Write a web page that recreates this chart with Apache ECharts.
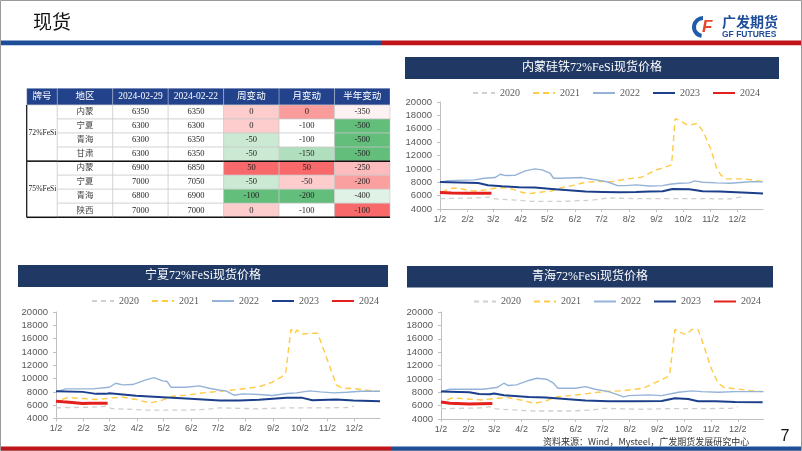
<!DOCTYPE html>
<html>
<head>
<meta charset="utf-8">
<script src="https://cdn.jsdelivr.net/npm/echarts@6/dist/echarts.min.js"></script>
<style>
html, body { margin: 0; padding: 0; background: #fff; }
#main { width: 802px; height: 451px; }
</style>
</head>
<body>
<div id="main"></div>
<script>
// 表格数据
const tableHeader = ['牌号', '地区', '2024-02-29', '2024-02-22', '周变动', '月变动', '半年变动'];
const grades = ['72%FeSi', '75%FeSi'];
const regions = ['内蒙', '宁夏', '青海', '甘肃', '内蒙', '宁夏', '青海', '陕西'];
const price0229 = [6350, 6300, 6300, 6300, 6900, 7000, 6800, 7000];
const price0222 = [6350, 6300, 6350, 6350, 6850, 7050, 6900, 7000];
const weekChg = [0, 0, -50, -50, 50, -50, -100, 0];
const monthChg = [0, -100, -100, -150, 50, -50, -200, -100];
const halfYearChg = [-350, -500, -500, -500, -250, -200, -400, -100];

// 走势图数据 (月/日, 元/吨)
const years = ['2020', '2021', '2022', '2023', '2024'];
const yTicks = { min: 4000, max: 20000, step: 2000 };

// 内蒙
const nm2020 = [['1/2',5550],['2/10',5650],['2/28',5800],['3/4',5500],['3/20',5400],['4/15',5150],['5/20',5150],['6/20',5300],['7/10',5650],['8/10',5550],['9/20',5550],['10/24',5550],['11/24',5500],['12/9',5900]];
const nm2021 = [['1/4',6500],['1/13',7100],['1/23',7100],['2/1',6850],['2/10',6700],['2/21',6850],['3/4',7100],['3/12',7200],['3/23',7000],['4/3',6500],['4/12',6300],['4/22',6500],['5/7',6700],['5/18',7200],['5/30',7500],['6/14',8000],['6/29',8100],['7/14',8100],['7/29',8450],['8/16',8750],['9/1',9800],['9/15',10400],['9/19',10600],['9/23',17500],['9/28',17200],['10/8',16500],['10/18',16800],['10/25',15500],['11/2',13000],['11/9',10000],['11/14',9000],['11/20',8500],['12/10',8500],['12/20',8300],['12/31',8100]];
const nm2022 = [['1/2',8000],['1/11',8250],['2/10',8350],['2/21',8600],['3/4',8700],['3/10',9200],['3/16',9000],['3/27',9050],['4/7',9700],['4/18',10000],['4/26',9850],['5/5',9350],['5/9',8600],['5/18',8600],['6/10',8700],['6/21',8450],['7/3',8200],['7/10',8000],['7/20',7500],['7/29',7500],['8/10',7600],['8/25',7450],['9/9',7500],['9/17',7700],['9/28',7850],['10/9',7900],['10/15',8200],['10/24',8000],['11/9',7900],['11/24',7850],['12/9',8000],['12/20',8100],['12/31',8050]];
const nm2023 = [['1/2',8050],['2/14',7900],['2/25',7550],['3/12',7400],['3/31',7250],['4/18',7200],['5/7',7000],['5/26',6800],['6/14',6600],['7/3',6550],['7/22',6500],['8/10',6550],['8/25',6600],['9/9',6650],['9/20',7000],['10/9',6950],['10/24',6650],['11/12',6600],['12/1',6500],['12/20',6400],['12/31',6300]];
const nm2024 = [['1/2',6450],['1/15',6400],['2/1',6350],['2/29',6350]];

// 宁夏
const nx2020 = [['1/2',5600],['2/12',5700],['2/28',5850],['3/4',5500],['4/15',5250],['5/27',5250],['6/20',5400],['7/4',5600],['8/15',5450],['9/17',5600],['10/25',5600],['11/25',5650],['12/2',5850]];
const nx2021 = [['1/9',6850],['1/15',7150],['2/1',7000],['2/16',6850],['3/6',7100],['3/17',7200],['4/1',6850],['4/16',6350],['4/27',6600],['5/12',7350],['5/27',7500],['6/15',7850],['7/4',8100],['7/23',8350],['8/17',8750],['9/1',9450],['9/12',10300],['9/16',10800],['9/22',17400],['9/26',16800],['9/29',17300],['10/5',16700],['10/16',16800],['10/22',16800],['10/31',13500],['11/12',9050],['11/19',8550],['12/1',8500],['12/16',8250],['12/30',8100]];
const nx2022 = [['1/2',8000],['1/13',8450],['2/12',8450],['3/2',8700],['3/9',9300],['3/17',9050],['3/28',9100],['4/12',9800],['4/21',10150],['5/1',9650],['5/6',9550],['5/10',8700],['5/27',8700],['6/11',8900],['6/22',8550],['7/4',8250],['7/11',8150],['7/20',7500],['7/30',7700],['8/17',7600],['9/1',7450],['9/17',7750],['9/28',7850],['10/13',8150],['10/25',8000],['11/9',7850],['11/24',7950],['12/9',8100],['12/31',8100]];
const nx2023 = [['1/2',8100],['2/1',8000],['2/16',7700],['2/27',7700],['3/2',7800],['4/1',7400],['5/1',7200],['5/27',7000],['7/4',6700],['7/26',6700],['8/17',6800],['9/17',7100],['10/5',7100],['10/16',6750],['11/12',6850],['12/1',6700],['12/31',6600]];
const nx2024 = [['1/2',6600],['1/10',6500],['1/20',6400],['2/1',6250],['2/8',6300],['2/29',6300]];

// 青海
const qh2020 = [['1/2',5550],['2/15',5650],['2/28',5850],['3/4',5500],['4/15',5200],['5/27',5200],['6/20',5350],['7/4',5600],['8/15',5450],['9/17',5550],['10/25',5550],['11/25',5600],['12/2',5850]];
const qh2021 = [['1/9',6850],['1/15',7150],['2/1',7000],['2/16',6850],['3/6',7100],['3/17',7200],['4/1',6850],['4/16',6350],['4/27',6600],['5/12',7300],['5/27',7500],['6/15',7800],['7/4',8100],['7/23',8200],['8/17',8600],['9/1',9500],['9/12',10200],['9/16',10600],['9/22',17400],['9/27',17000],['10/5',16600],['10/11',17400],['10/18',17400],['10/22',16000],['11/2',11550],['11/10',9300],['11/17',8700],['12/1',8500],['12/16',8250],['12/30',8100]];
const qh2022 = [['1/2',8100],['1/12',8450],['2/18',8450],['3/5',8700],['3/13',9350],['3/18',9000],['3/27',9100],['4/11',9800],['4/19',10100],['4/30',9950],['5/8',9350],['5/13',8600],['6/2',8600],['6/13',8850],['6/24',8450],['7/9',8100],['7/20',7600],['7/26',7300],['8/1',7500],['8/23',7600],['9/7',7500],['9/26',8000],['10/11',8200],['10/22',8100],['11/10',8000],['11/29',8100],['12/31',8100]];
const qh2023 = [['1/2',8100],['2/3',8000],['2/14',7750],['2/26',7700],['3/2',7800],['3/13',7550],['4/10',7300],['4/29',7200],['5/25',6950],['6/13',6750],['7/9',6650],['8/8',6650],['9/7',6700],['9/22',7100],['10/7',7000],['10/18',6650],['11/7',6650],['11/29',6550],['12/30',6500]];
const qh2024 = [['1/2',6550],['1/12',6350],['2/3',6250],['2/29',6300]];

const lineStyles = {
  '2020': { color: '#CFCFCF', width: 1.3, type: [5, 4] },
  '2021': { color: '#FFCB45', width: 1.4, type: [6, 4] },
  '2022': { color: '#95B3D7', width: 1.4, type: 'solid' },
  '2023': { color: '#1C3F8C', width: 2, type: 'solid' },
  '2024': { color: '#E3201C', width: 3, type: 'solid' }
};

const charts = [
  { title: '内蒙硅铁72%FeSi现货价格', bar: [405, 57, 374, 22], grid: { left: 440, top: 102, width: 323, height: 107 }, legend: { left: 472, top: 88 }, data: [nm2020, nm2021, nm2022, nm2023, nm2024] },
  { title: '宁夏72%FeSi现货价格', bar: [18, 265, 370, 22], grid: { left: 56, top: 312, width: 324, height: 106.5 }, legend: { left: 91, top: 296 }, data: [nx2020, nx2021, nx2022, nx2023, nx2024] },
  { title: '青海72%FeSi现货价格', bar: [407, 266, 366, 21.5], grid: { left: 441, top: 312, width: 322.5, height: 107 }, legend: { left: 473, top: 296.5 }, data: [qh2020, qh2021, qh2022, qh2023, qh2024] }
];

// 横轴日期 1/2 ~ 12/31 (含 2/29)
const days = [];
for (let m = 1; m <= 12; m++) {
  const n = new Date(2024, m, 0).getDate();
  for (let d = (m === 1 ? 2 : 1); d <= n; d++) days.push(m + '/' + d);
}
const isMonthTick = (i, v) => v.split('/')[1] === '2';

// Excel 三色阶: 绿-白-红, 中点为中位数
function scaleColor(v, arr) {
  const s = arr.slice().sort((a, b) => a - b);
  const min = s[0], max = s[s.length - 1];
  const p = (s.length - 1) * 0.5, lo = Math.floor(p), hi = Math.ceil(p);
  const mid = s[lo] + (s[hi] - s[lo]) * (p - lo);
  let t, c;
  if (v >= mid) { t = max === mid ? 0 : (v - mid) / (max - mid); c = [248, 105, 107]; }
  else { t = (mid - v) / (mid - min); c = [99, 190, 123]; }
  const mix = c.map(k => Math.round(255 + (k - 255) * t));
  return 'rgb(' + mix.join(',') + ')';
}

const myChart = echarts.init(document.getElementById('main'), null, { renderer: 'canvas' });

const grids = [], xAxes = [], yAxes = [], series = [], legends = [], graphics = [];

charts.forEach((c, ci) => {
  grids.push(Object.assign({ containLabel: false }, c.grid));
  xAxes.push({
    gridIndex: ci, type: 'category', data: days, boundaryGap: false,
    axisLine: { lineStyle: { color: '#BFBFBF', width: 1 } },
    axisTick: { interval: isMonthTick, length: 3, lineStyle: { color: '#BFBFBF' } },
    axisLabel: { interval: isMonthTick, fontSize: 9, color: '#595959', margin: 6, fontFamily: 'Liberation Sans' },
    splitLine: { show: false }
  });
  yAxes.push({
    gridIndex: ci, type: 'value', min: yTicks.min, max: yTicks.max, interval: yTicks.step,
    axisLine: { show: true, lineStyle: { color: '#BFBFBF', width: 1 } },
    axisTick: { show: true, length: 3, lineStyle: { color: '#BFBFBF' } },
    axisLabel: { fontSize: 9.5, color: '#595959', margin: 8, fontFamily: 'Liberation Sans', formatter: v => String(v) },
    splitLine: { show: false }
  });
  years.forEach((y, yi) => {
    const st = lineStyles[y];
    series.push({
      type: 'line', name: y, xAxisIndex: ci, yAxisIndex: ci,
      data: c.data[yi], symbol: 'none', silent: true, z: 2 + yi,
      lineStyle: { color: st.color, width: st.width, type: st.type },
      itemStyle: { color: st.color }
    });
  });
  legends.push({
    data: years, left: c.legend.left, top: c.legend.top, padding: 0,
    itemWidth: 22, itemHeight: 10, itemGap: 12,
    selectedMode: false, itemStyle: { opacity: 0 },
    textStyle: { fontFamily: 'Liberation Serif', fontSize: 10, color: '#595959' }
  });
  graphics.push({ type: 'rect', shape: { x: c.bar[0], y: c.bar[1], width: c.bar[2], height: c.bar[3] }, style: { fill: '#1F3864' } });
  graphics.push({ type: 'text', x: c.bar[0] + c.bar[2] / 2, y: c.bar[1] + c.bar[3] / 2,
    style: { text: c.title, fill: '#fff', font: '12px "Liberation Serif", "Noto Sans CJK SC"', align: 'center', verticalAlign: 'middle' } });
});

// 表格: 4 个网格 (表头首列, 表头其余, 表体首列, 表体其余)
const tLeft = 26.7, tCol1 = 30.6, tRight = 390, tTop = 88.3, tHead = 16.7, tBottom = 217.3;
const tableGrids = [
  { left: tLeft, top: tTop, width: tCol1, height: tHead, xs: [tableHeader[0]], ys: ['h'] },
  { left: tLeft + tCol1, top: tTop, width: tRight - tLeft - tCol1, height: tHead, xs: tableHeader.slice(1), ys: ['h'] },
  { left: tLeft, top: tTop + tHead, width: tCol1, height: tBottom - tTop - tHead, xs: ['g'], ys: grades },
  { left: tLeft + tCol1, top: tTop + tHead, width: tRight - tLeft - tCol1, height: tBottom - tTop - tHead, xs: tableHeader.slice(1), ys: regions.map((r, i) => i) }
];
tableGrids.forEach((g, k) => {
  const gi = charts.length + k;
  grids.push({ left: g.left, top: g.top, width: g.width, height: g.height });
  xAxes.push({ gridIndex: gi, type: 'category', data: g.xs, show: false });
  yAxes.push({ gridIndex: gi, type: 'category', data: g.ys, show: false, inverse: true });
});

const cellFont = '8.5px "Liberation Serif", "Noto Sans CJK SC"';
const gradeFont = '7.6px "Liberation Serif", "Noto Sans CJK SC"';
const headFont = '9.5px "Liberation Serif", "Noto Sans CJK SC"';
function cellBox(api) {
  const c = api.coord([api.value(0), api.value(1)]);
  const s = api.size([1, 1]);
  return { x: c[0] - s[0] / 2, y: c[1] - s[1] / 2, w: s[0], h: s[1], cx: c[0], cy: c[1] };
}
function headerItem(texts) {
  return (params, api) => {
    const b = cellBox(api);
    return { type: 'group', children: [
      { type: 'rect', shape: { x: b.x, y: b.y, width: b.w, height: b.h }, style: { fill: '#22428C', stroke: 'rgba(255,255,255,0.45)', lineWidth: 0.6 } },
      { type: 'text', style: { text: texts[params.dataIndex], x: b.cx, y: b.cy, align: 'center', verticalAlign: 'middle', font: headFont, fill: '#fff' } }
    ] };
  };
}
series.push({ type: 'custom', xAxisIndex: 3, yAxisIndex: 3, silent: true, data: [[0, 0]], renderItem: headerItem([tableHeader[0]]) });
series.push({ type: 'custom', xAxisIndex: 4, yAxisIndex: 4, silent: true, data: tableHeader.slice(1).map((t, i) => [i, 0]), renderItem: headerItem(tableHeader.slice(1)) });

series.push({
  type: 'custom', xAxisIndex: 5, yAxisIndex: 5, silent: true,
  data: grades.map((g, i) => [0, i]),
  renderItem: (params, api) => {
    const b = cellBox(api);
    return { type: 'group', children: [
      { type: 'rect', shape: { x: b.x, y: b.y, width: b.w, height: b.h }, style: { fill: '#fff', stroke: '#BFBFBF', lineWidth: 0.6 } },
      { type: 'text', style: { text: grades[params.dataIndex], x: b.cx + 0.5, y: b.cy, align: 'center', verticalAlign: 'middle', font: gradeFont, fill: '#222' } },
      { type: 'line', z2: 10, shape: { x1: b.x, y1: b.y + b.h, x2: b.x + b.w, y2: b.y + b.h }, style: { stroke: '#111', lineWidth: 1.5 } },
      { type: 'line', z2: 10, shape: { x1: b.x, y1: b.y, x2: b.x, y2: b.y + b.h }, style: { stroke: '#111', lineWidth: 1.2 } }
    ] };
  }
});

const bodyCols = [regions, price0229, price0222, weekChg, monthChg, halfYearChg];
const bodyData = [];
regions.forEach((r, ri) => bodyCols.forEach((col, ci) => bodyData.push([ci, ri])));
series.push({
  type: 'custom', xAxisIndex: 6, yAxisIndex: 6, silent: true, data: bodyData,
  renderItem: (params, api) => {
    const b = cellBox(api);
    const ci = api.value(0), ri = api.value(1);
    const v = bodyCols[ci][ri];
    const fill = ci >= 3 ? scaleColor(v, bodyCols[ci]) : '#fff';
    const kids = [
      { type: 'rect', shape: { x: b.x, y: b.y, width: b.w, height: b.h }, style: { fill: fill, stroke: '#C8C8C8', lineWidth: 0.6 } },
      { type: 'text', style: { text: String(v), x: b.cx, y: b.cy, align: 'center', verticalAlign: 'middle', font: cellFont, fill: ci === 0 ? '#444' : '#222' } }
    ];
    if (ri === 3 || ri === 7) {
      kids.push({ type: 'line', z2: 10, shape: { x1: b.x, y1: b.y + b.h, x2: b.x + b.w, y2: b.y + b.h }, style: { stroke: '#111', lineWidth: 1.5 } });
    }
    return { type: 'group', children: kids };
  }
});

// 页面装饰
graphics.push(
  { type: 'rect', z: -10, shape: { x: 0.5, y: 0.5, width: 801, height: 450 }, style: { fill: '#fff', stroke: '#9A9A9A', lineWidth: 1 } },
  { type: 'text', x: 33, y: 22, style: { text: '现货', font: '19px "Noto Sans CJK SC"', fill: '#111', verticalAlign: 'middle' } },
  { type: 'rect', shape: { x: 1, y: 40.5, width: 381, height: 4.8 }, style: { fill: '#1F4E99' } },
  { type: 'rect', shape: { x: 382, y: 40.5, width: 419, height: 4.8 }, style: { fill: '#C0141B' } },
  { type: 'rect', shape: { x: 1, y: 446.5, width: 391, height: 4 }, style: { fill: '#C0141B' } },
  { type: 'rect', shape: { x: 392, y: 446.5, width: 409, height: 4 }, style: { fill: '#1F4E99' } },
  { type: 'arc', shape: { cx: 703, cy: 27, r: 9, startAngle: Math.PI * 0.55, endAngle: Math.PI * 1.5 }, style: { stroke: '#1F5BA8', lineWidth: 4, fill: null } },
  { type: 'text', x: 702, y: 27, style: { text: 'F', font: 'italic bold 17px "Liberation Sans"', fill: '#E8452C', verticalAlign: 'middle' } },
  { type: 'text', x: 722, y: 22, style: { text: '广发期货', font: 'bold 14px "Noto Sans CJK SC"', fill: '#1F4E99', verticalAlign: 'middle' } },
  { type: 'text', x: 722, y: 35, style: { text: 'GF FUTURES', font: 'bold 8.5px "Liberation Sans"', fill: '#1F4E99', verticalAlign: 'middle' } },
  { type: 'text', x: 543, y: 441.5, style: { text: '资料来源：Wind，Mysteel，广发期货发展研究中心', font: '9px "Noto Sans CJK SC"', fill: '#333', verticalAlign: 'middle' } },
  { type: 'text', x: 785, y: 437, style: { text: '7', font: '16px "Liberation Sans"', fill: '#111', align: 'center', verticalAlign: 'middle' } }
);

myChart.setOption({
  animation: false,
  grid: grids,
  xAxis: xAxes,
  yAxis: yAxes,
  legend: legends,
  series: series,
  graphic: graphics
});
</script>
</body>
</html>
